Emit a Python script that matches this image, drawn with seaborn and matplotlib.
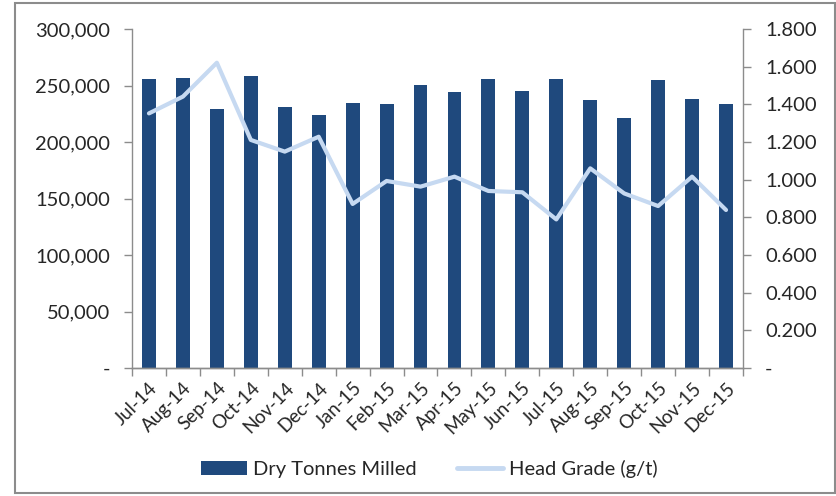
import numpy as np
import pandas as pd
import matplotlib
matplotlib.use("Agg")
import matplotlib.pyplot as plt
import seaborn as sns
from matplotlib.ticker import FuncFormatter, FixedLocator
from matplotlib.lines import Line2D
from matplotlib.patches import Patch, Rectangle

months = ["Jul-14", "Aug-14", "Sep-14", "Oct-14", "Nov-14", "Dec-14",
          "Jan-15", "Feb-15", "Mar-15", "Apr-15", "May-15", "Jun-15",
          "Jul-15", "Aug-15", "Sep-15", "Oct-15", "Nov-15", "Dec-15"]
dry_tonnes = [255800, 256900, 228900, 258100, 230700, 223900,
              234500, 233600, 250200, 244200, 256000, 245400,
              256000, 236900, 221200, 255100, 238300, 233600]
head_grade = [1.352, 1.441, 1.621, 1.211, 1.149, 1.228,
              0.871, 0.993, 0.963, 1.016, 0.940, 0.933,
              0.789, 1.060, 0.927, 0.860, 1.016, 0.839]

df = pd.DataFrame({"month": months, "tonnes": dry_tonnes,
                   "grade": head_grade, "pos": np.arange(len(months))})

sns.set_theme(style="white")
plt.rcParams["font.family"] = ["Lato", "DejaVu Sans"]

BAR = "#1f497d"
LINE = "#c6d9f1"
SPINE = "#8c8c8c"
TXT = "#262626"
FS = 14.5
XFS = 13.5

fig = plt.figure(figsize=(8.37, 4.96), dpi=100)
ax = fig.add_axes([132/837, 1-368/496, (743-132)/837, (368-29)/496])

sns.barplot(data=df, x="month", y="tonnes", color=BAR, saturation=1,
            width=0.41, ax=ax, edgecolor="none")
ax.set_xlim(-0.5, len(months)-0.5)
ax.set_ylim(0, 300000)
ax.set_xlabel("")
ax.set_ylabel("")

ax2 = ax.twinx()
sns.lineplot(data=df, x="pos", y="grade", color=LINE, linewidth=3.0,
             ax=ax2, legend=False)
ax2.set_ylim(0, 1.8)
ax2.set_xlim(-0.5, len(months)-0.5)
ax2.set_ylabel("")
ax2.set_xlabel("")

ax.yaxis.set_major_locator(FixedLocator(np.arange(0, 300001, 50000)))
ax.yaxis.set_major_formatter(FuncFormatter(lambda v, p: "-" if v == 0 else f"{int(v):,}"))
ax2.yaxis.set_major_locator(FixedLocator(np.arange(0, 1.8001, 0.2)))
ax2.yaxis.set_major_formatter(FuncFormatter(lambda v, p: "-" if abs(v) < 1e-9 else f"{v:.3f}"))

for a in (ax, ax2):
    for s in a.spines.values():
        s.set_color(SPINE)
        s.set_linewidth(1.0)
    a.spines["top"].set_visible(False)

ax.spines["right"].set_visible(False)
ax2.spines["left"].set_visible(False)

ax.tick_params(axis="y", which="major", length=6, width=1, color=SPINE,
               labelsize=FS, labelcolor=TXT, pad=10, direction="out", left=True)
ax2.tick_params(axis="y", which="major", length=6, width=1, color=SPINE,
                labelsize=FS, labelcolor=TXT, pad=10, direction="out", right=True)

ax.set_xticks(np.arange(len(months)))
ax.set_xticklabels(months, rotation=45, ha="right", rotation_mode="anchor")
ax.tick_params(axis="x", which="major", length=0, labelsize=XFS, labelcolor=TXT, pad=8)
ax.set_xticks(np.arange(-0.5, len(months)), minor=True)
ax.tick_params(axis="x", which="minor", length=6, width=1, color=SPINE, direction="out", bottom=True)
ax2.tick_params(axis="x", which="both", length=0, labelbottom=False)

handles = [Patch(facecolor=BAR, edgecolor="none", label="Dry Tonnes Milled"),
           Line2D([0], [0], color=LINE, linewidth=3.5, label="Head Grade (g/t)")]
fig.legend(handles=handles, loc="center", bbox_to_anchor=(0.513, 1-469/496),
           ncol=2, frameon=False, fontsize=FS, handlelength=2.3,
           handletextpad=0.3, columnspacing=2.0, labelcolor=TXT)

fig.patches.append(Rectangle((15/837, 3/496), (835-15)/837, (493-3)/496,
                             transform=fig.transFigure, fill=False,
                             edgecolor="#8c8c8c", linewidth=1.5))

fig.savefig("out.png", dpi=100)
